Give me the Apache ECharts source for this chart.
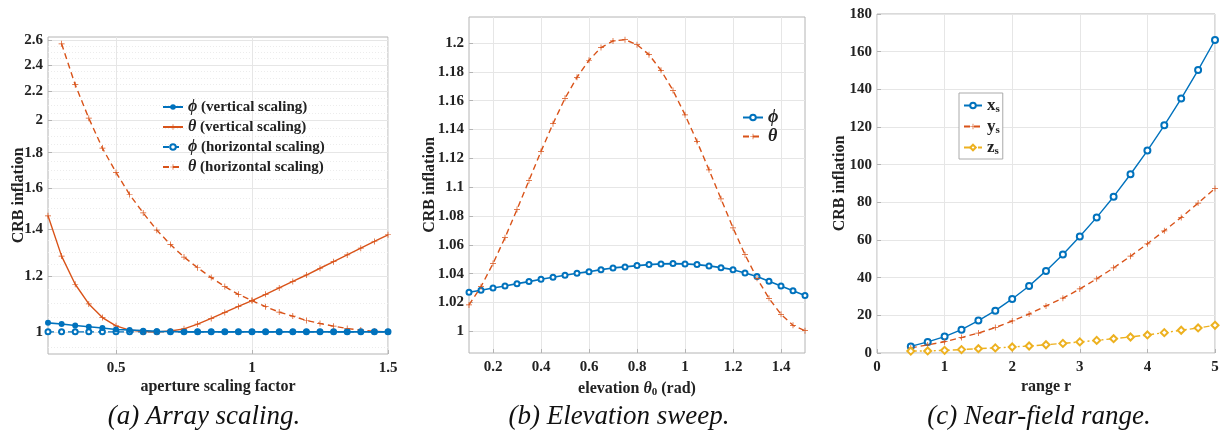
<!DOCTYPE html>
<html><head><meta charset="utf-8">
<script src="https://cdn.jsdelivr.net/npm/echarts@6/dist/echarts.min.js"></script>
<style>html,body{margin:0;padding:0;background:#fff}#c{width:1227px;height:438px}</style>
</head><body><div id="c"></div>
<script>
// ---------- Panel (a): Array scaling ----------
const aX = [0.25,0.3,0.35,0.4,0.45,0.5,0.55,0.6,0.65,0.7,0.75,0.8,0.85,0.9,0.95,1.0,1.05,1.1,1.15,1.2,1.25,1.3,1.35,1.4,1.45,1.5];
const aPhiV = [1.030,1.026,1.021,1.017,1.013,1.008,1.006,1.004,1.002,1.001,1.000,1.000,1.000,1.000,1.000,1.000,1.000,1.000,1.000,1.000,1.000,1.000,1.000,1.000,1.000,1.000];
const aThetaV = [1.463,1.282,1.169,1.096,1.048,1.020,1.006,1.001,1.000,1.003,1.010,1.026,1.045,1.066,1.087,1.108,1.131,1.155,1.180,1.205,1.232,1.259,1.287,1.316,1.345,1.375];
const aPhiH = [1.000,1.000,1.000,1.000,1.000,1.000,1.000,1.000,1.000,1.000,1.000,1.000,1.000,1.000,1.000,1.000,1.000,1.000,1.000,1.000,1.000,1.000,1.000,1.000,1.000,1.000];
const aThetaH = [null,2.572,2.249,2.015,1.827,1.687,1.569,1.477,1.396,1.332,1.278,1.234,1.195,1.160,1.131,1.108,1.086,1.067,1.053,1.038,1.028,1.019,1.011,1.006,1.002,1.000];
const aYTicks = [1,1.2,1.4,1.6,1.8,2,2.2,2.4,2.6];
const aYMinor = [0.95,1.05,1.1,1.15,1.25,1.3,1.35,1.45,1.5,1.55,1.65,1.7,1.75,1.85,1.9,1.95,2.05,2.1,2.15,2.25,2.3,2.35,2.45,2.5,2.55];
const aXTicks = [0.5,1,1.5];
const aNames = ['ϕ (vertical scaling)','θ (vertical scaling)','ϕ (horizontal scaling)','θ (horizontal scaling)'];

// ---------- Panel (b): Elevation sweep ----------
const bX = [0.1,0.15,0.2,0.25,0.3,0.35,0.4,0.45,0.5,0.55,0.6,0.65,0.7,0.75,0.8,0.85,0.9,0.95,1.0,1.05,1.1,1.15,1.2,1.25,1.3,1.35,1.4,1.45,1.5];
const bPhi = [1.0271,1.0285,1.0301,1.0315,1.0331,1.0345,1.0361,1.0375,1.0389,1.0403,1.0414,1.0428,1.0440,1.0447,1.0456,1.0463,1.0468,1.0470,1.0468,1.0463,1.0454,1.0442,1.0428,1.0405,1.0380,1.0347,1.0315,1.0282,1.0248];
const bTheta = [1.0183,1.0310,1.0470,1.0650,1.0845,1.1046,1.1248,1.1440,1.1616,1.1762,1.1880,1.1968,1.2014,1.2023,1.1988,1.1919,1.1810,1.1671,1.1502,1.1317,1.1120,1.0919,1.0718,1.0532,1.0368,1.0229,1.0118,1.0042,1.0005];
const bYTicks = [1,1.02,1.04,1.06,1.08,1.1,1.12,1.14,1.16,1.18,1.2];
const bXTicks = [0.2,0.4,0.6,0.8,1,1.2,1.4];
const bNames = ['ϕ','θ'];

// ---------- Panel (c): Near-field range ----------
const cX = [0.5,0.75,1,1.25,1.5,1.75,2,2.25,2.5,2.75,3,3.25,3.5,3.75,4,4.25,4.5,4.75,5];
const cXs = [3.5,5.9,8.7,12.4,17.2,22.5,28.7,35.6,43.6,52.3,61.9,72.0,83.0,94.9,107.5,120.9,135.1,150.2,166.2];
const cYs = [2.7,4.3,6.0,8.2,10.6,13.5,17.0,20.7,25.0,29.1,34.0,39.4,45.2,51.4,58.0,64.9,72.0,79.6,87.4];
const cZs = [1.0,1.1,1.4,1.8,2.3,2.7,3.2,3.7,4.4,5.1,5.9,6.7,7.6,8.5,9.6,10.8,12.1,13.3,14.7];
const cNames = ['x_s','y_s','z_s'];

const captions = ['(a) Array scaling.','(b) Elevation sweep.','(c) Near-field range.'];

// ---------- styling ----------
const F = "'Liberation Serif','Times New Roman',serif";
const AXC = '#b4b4b4', GRC = '#e6e6e6';
const BLUE = '#0072BD', ORANGE = '#D95319', YELLOW = '#EDB120';
const PLUS = 'path://M0,4.4h10v1.2h-10zM4.4,0h1.2v10h-1.2z';
const fmt = v => String(Math.round(v * 1000) / 1000);
const pairs = (xs, ys) => xs.map((x, i) => [x, ys[i]]);

function xAx(gi, min, max, ticks, name, extra) {
  const o = {
    type: 'value', gridIndex: gi, min, max,
    name, nameLocation: 'middle', nameGap: 25, nameMoveOverlap: false,
    nameTextStyle: { fontFamily: F, fontWeight: 'bold', fontSize: 16, color: '#222' },
    axisLine: { show: false },
    axisTick: { show: true, inside: true, length: 4, lineStyle: { color: AXC } },
    axisLabel: { fontFamily: F, fontWeight: 'bold', fontSize: 15, color: '#222', margin: 7, formatter: fmt, showMinLabel: true, showMaxLabel: true },
    splitLine: { show: true, lineStyle: { color: GRC, width: 1 } }
  };
  if (ticks) { o.axisTick.customValues = ticks; o.axisLabel.customValues = ticks; }
  return Object.assign(o, extra || {});
}
function yAx(gi, type, min, max, ticks, gap, extra) {
  const o = {
    type, gridIndex: gi, min, max,
    name: 'CRB inflation', nameLocation: 'middle', nameGap: gap, nameMoveOverlap: false,
    nameTextStyle: { fontFamily: F, fontWeight: 'bold', fontSize: 16, color: '#222' },
    axisLine: { show: false },
    axisTick: { show: true, inside: true, length: 4, lineStyle: { color: AXC } },
    axisLabel: { fontFamily: F, fontWeight: 'bold', fontSize: 15, color: '#222', margin: 5, formatter: fmt, showMinLabel: true, showMaxLabel: true },
    splitLine: { show: true, lineStyle: { color: GRC, width: 1 } }
  };
  if (ticks) { o.axisTick.customValues = ticks; o.axisLabel.customValues = ticks; }
  return Object.assign(o, extra || {});
}

const gridBase = { show: true, borderColor: AXC, borderWidth: 1, backgroundColor: '#fff' };
const option = {
  animation: false,
  backgroundColor: '#fff',
  grid: [
    Object.assign({ left: 48, top: 37, width: 340, height: 317 }, gridBase),
    Object.assign({ left: 469, top: 17, width: 336, height: 336 }, gridBase),
    Object.assign({ left: 877, top: 14, width: 338, height: 339 }, gridBase)
  ],
  xAxis: [
    xAx(0, 0.25, 1.5, aXTicks, 'aperture scaling factor'),
    xAx(1, 0.1, 1.5, bXTicks, 'elevation {i|θ}{sub|0} (rad)', {
      nameGap: 26,
      nameTextStyle: { fontFamily: F, fontWeight: 'bold', fontSize: 16, color: '#222',
        rich: { i: { fontFamily: F, fontStyle: 'italic', fontWeight: 'bold', fontSize: 16, color: '#222' },
                sub: { fontFamily: F, fontWeight: 'bold', fontSize: 11, color: '#222', padding: [8, 0, 0, 0] } } }
    }),
    xAx(2, 0, 5, null, 'range r', { interval: 1, nameGap: 26 })
  ],
  yAxis: [
    yAx(0, 'log', 0.93, 2.63, aYTicks, 21, { logBase: 10 }),
    {
      type: 'log', gridIndex: 0, min: 0.93, max: 2.63, logBase: 10,
      axisLine: { show: false }, axisLabel: { show: false },
      axisTick: { show: false, customValues: aYMinor },
      splitLine: { show: true, lineStyle: { color: '#ececec', width: 1, type: [1, 2] } }
    },
    yAx(1, 'value', 0.985, 1.218, bYTicks, 31),
    yAx(2, 'value', 0, 180, null, 29, { interval: 20 })
  ],
  legend: [
    {
      data: aNames, orient: 'vertical', left: 162, top: 97, itemWidth: 20, itemHeight: 7, itemGap: 0,
      padding: 0, backgroundColor: 'transparent',
      textStyle: { fontFamily: F, fontWeight: 'bold', fontSize: 15, color: '#222', lineHeight: 20,
        rich: { i: { fontFamily: F, fontStyle: 'italic', fontWeight: 'bold', fontSize: 16, color: '#222', lineHeight: 20 } } },
      formatter: n => '{i|' + n.charAt(0) + '}' + n.slice(1)
    },
    {
      data: bNames, orient: 'vertical', left: 742, top: 108, itemWidth: 20, itemHeight: 7, itemGap: 0,
      padding: 0,
      textStyle: { fontFamily: F, fontSize: 17, color: '#222', lineHeight: 19,
        rich: { i: { fontFamily: F, fontStyle: 'italic', fontWeight: 'bold', fontSize: 18, color: '#222', lineHeight: 19 } } },
      formatter: n => '{i|' + n + '}'
    },
    {
      data: cNames, orient: 'vertical', left: 959, top: 93, itemWidth: 18, itemHeight: 7, itemGap: 0,
      padding: [2, 3, 1, 4], borderColor: '#aaaaaa', borderWidth: 1, backgroundColor: '#fff',
      textStyle: { fontFamily: F, fontWeight: 'bold', fontSize: 17, color: '#222', lineHeight: 21,
        rich: { b: { fontFamily: F, fontWeight: 'bold', fontSize: 17, color: '#222', lineHeight: 21 },
                s: { fontFamily: F, fontWeight: 'bold', fontSize: 11, color: '#222', lineHeight: 21, padding: [8, 0, 0, 0] } } },
      formatter: n => '{b|' + n.split('_')[0] + '}{s|' + n.split('_')[1] + '}'
    }
  ],
  graphic: captions.map((t, i) => ({
    type: 'text', x: [204, 619, 1039][i], y: 417,
    style: { text: t, fontFamily: F, fontStyle: 'italic', fontSize: 27, fill: '#111', textAlign: 'center', textVerticalAlign: 'middle' }
  })),
  series: [
    { name: aNames[0], type: 'line', xAxisIndex: 0, yAxisIndex: 0, data: pairs(aX, aPhiV),
      symbol: 'circle', symbolSize: 6, lineStyle: { color: BLUE, width: 1.6 }, itemStyle: { color: BLUE }, z: 4 },
    { name: aNames[1], type: 'line', xAxisIndex: 0, yAxisIndex: 0, data: pairs(aX, aThetaV),
      symbol: PLUS, symbolSize: 6, lineStyle: { color: ORANGE, width: 1.4 }, itemStyle: { color: ORANGE }, z: 3 },
    { name: aNames[2], type: 'line', xAxisIndex: 0, yAxisIndex: 0, data: pairs(aX, aPhiH),
      symbol: 'emptyCircle', symbolSize: 5, lineStyle: { color: BLUE, width: 1.4, type: [6, 4] }, itemStyle: { color: BLUE, borderWidth: 1.2 }, z: 2 },
    { name: aNames[3], type: 'line', xAxisIndex: 0, yAxisIndex: 0, data: pairs(aX, aThetaH),
      symbol: PLUS, symbolSize: 6, lineStyle: { color: ORANGE, width: 1.4, type: [6, 4] }, itemStyle: { color: ORANGE }, z: 2 },

    { name: bNames[0], type: 'line', xAxisIndex: 1, yAxisIndex: 2, data: pairs(bX, bPhi),
      symbol: 'emptyCircle', symbolSize: 5, lineStyle: { color: BLUE, width: 1.6 }, itemStyle: { color: BLUE, borderWidth: 1.2 } },
    { name: bNames[1], type: 'line', xAxisIndex: 1, yAxisIndex: 2, data: pairs(bX, bTheta),
      symbol: PLUS, symbolSize: 6, lineStyle: { color: ORANGE, width: 1.4, type: [6, 4] }, itemStyle: { color: ORANGE } },

    { name: cNames[0], type: 'line', xAxisIndex: 2, yAxisIndex: 3, data: pairs(cX, cXs),
      symbol: 'emptyCircle', symbolSize: 6, lineStyle: { color: BLUE, width: 1.4 }, itemStyle: { color: BLUE, borderWidth: 1.2 } },
    { name: cNames[1], type: 'line', xAxisIndex: 2, yAxisIndex: 3, data: pairs(cX, cYs),
      symbol: PLUS, symbolSize: 6, lineStyle: { color: ORANGE, width: 1.4, type: [6, 4] }, itemStyle: { color: ORANGE } },
    { name: cNames[2], type: 'line', xAxisIndex: 2, yAxisIndex: 3, data: pairs(cX, cZs),
      symbol: 'emptyDiamond', symbolSize: 7, lineStyle: { color: YELLOW, width: 1.4, type: [6, 3, 2, 3] }, itemStyle: { color: YELLOW, borderWidth: 1.2 } }
  ]
};
const chart = echarts.init(document.getElementById('c'), null, { renderer: 'canvas' });
chart.setOption(option);
</script></body></html>
